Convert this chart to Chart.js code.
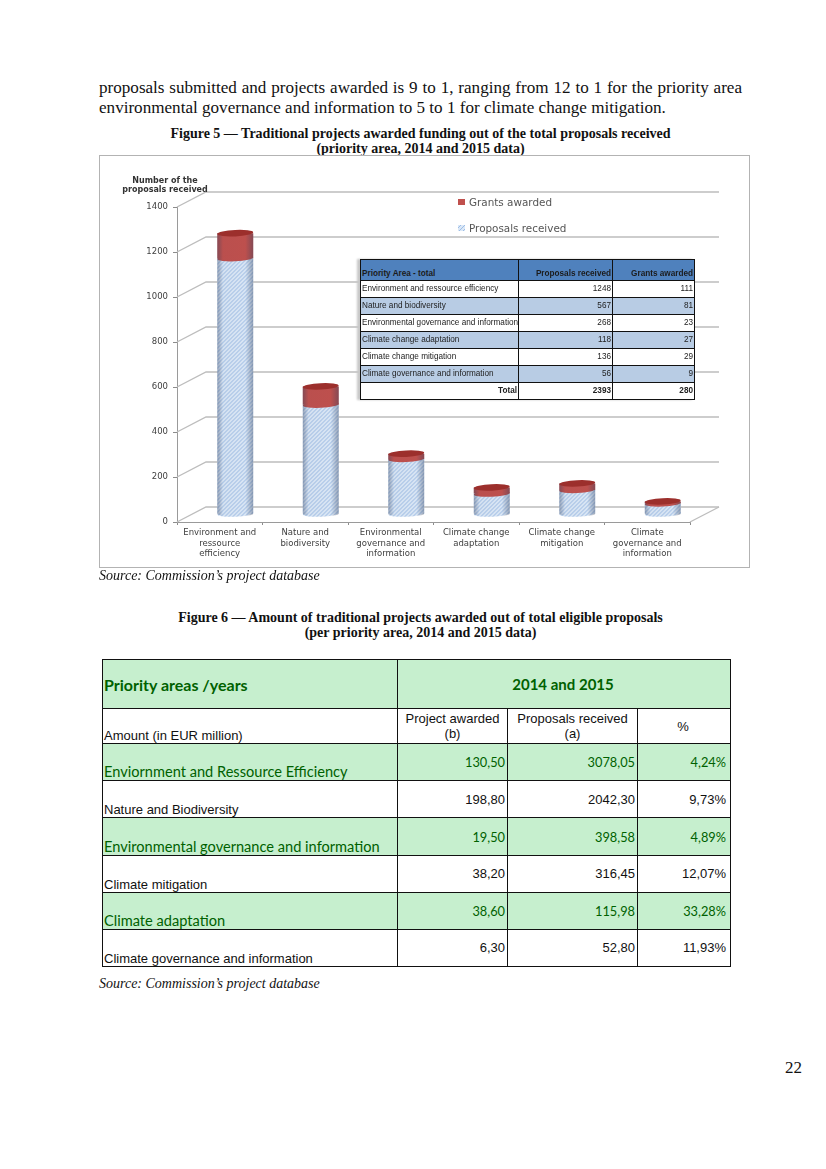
<!DOCTYPE html>
<html>
<head>
<meta charset="utf-8">
<script src="https://cdn.jsdelivr.net/npm/chart.js@4"></script>
<style>
html,body{margin:0;padding:0;background:#fff;}
body{position:relative;width:826px;height:1169px;overflow:hidden;color:#111;font-family:"Liberation Serif",serif;}
.txt{position:absolute;white-space:nowrap;}
.body{font-size:17.1px;left:99px;}
.cap{font-size:14px;font-weight:bold;left:0;width:841px;text-align:center;}
.src{font-size:14px;font-style:italic;left:99px;}
#chartBox{position:absolute;left:99px;top:155px;width:651px;height:413px;box-sizing:border-box;border:1px solid #b3b3b3;}
#chart1{position:absolute;left:-1px;top:-1px;filter:blur(.3px);}
#inner{position:absolute;left:360px;top:259px;width:334px;height:140px;background:#fff;box-shadow:-3px 0 2px #c8c8c8;border-collapse:collapse;table-layout:fixed;font-family:"Liberation Sans",sans-serif;font-size:8.2px;color:#222;filter:blur(.25px);}
#inner td{border:1px solid #111;padding:0 1px;height:16px;line-height:10px;white-space:nowrap;overflow:hidden;vertical-align:middle;text-align:right;}
#inner td:first-child{text-align:left;}
#inner tr.head td{background:#4f81bd;font-weight:bold;height:19px;color:#1c1c1c;vertical-align:bottom;padding-bottom:1px;}
#inner tr.alt td{background:#b8cce4;}
#inner tr.tot td{font-weight:bold;}
#amounts{position:absolute;left:102px;top:659px;width:628px;height:308px;border-collapse:collapse;table-layout:fixed;font-family:"Liberation Sans",sans-serif;font-size:13px;color:#111;}
#amounts td{border:1px solid #111;padding:0 2px;text-align:right;vertical-align:middle;}
#amounts td:first-child{text-align:left;vertical-align:bottom;padding-left:1px;}
#amounts td:last-child{padding-right:4px;}
#amounts tr.green td{background:#c6efce;color:#006100;font-family:Lato,sans-serif;font-size:12.8px;}
#amounts tr.green td:first-child{font-size:14.6px;}
#amounts tr.top td{background:#c6efce;color:#006100;font-family:Lato,sans-serif;font-weight:bold;font-size:15px;vertical-align:middle;text-align:center;}
#amounts tr.top td:first-child{text-align:left;font-size:16px;}
#amounts tr.sub td{text-align:center;line-height:15px;}
#amounts tr.sub td:first-child{text-align:left;}
</style>
</head>
<body>
<div class="txt body" style="top:78px;width:643px;white-space:normal;text-align:justify;text-align-last:justify;">proposals submitted and projects awarded is 9 to 1, ranging from 12 to 1 for the priority area</div>
<div class="txt body" style="top:98px;">environmental governance and information to 5 to 1 for climate change mitigation.</div>
<div class="txt cap" style="top:126px;">Figure 5 — Traditional projects awarded funding out of the total proposals received</div>
<div class="txt cap" style="top:141px;">(priority area, 2014 and 2015 data)</div>

<div id="chartBox"><canvas id="chart1" width="651" height="413"></canvas></div>
<table id="inner"><colgroup><col style="width:158px"><col style="width:94px"><col style="width:82px"></colgroup><tbody id="innerBody"></tbody></table>

<div class="txt src" style="top:568px;">Source: Commission’s project database</div>
<div class="txt cap" style="top:610px;">Figure 6 — Amount of traditional projects awarded out of total eligible proposals</div>
<div class="txt cap" style="top:625px;">(per priority area, 2014 and 2015 data)</div>

<table id="amounts"><colgroup><col style="width:295px"><col style="width:110px"><col style="width:130px"><col style="width:93px"></colgroup><tbody id="amountsBody"></tbody></table>

<div class="txt src" style="top:976px;">Source: Commission’s project database</div>
<div class="txt" style="left:785px;top:1058px;font-size:17px;">22</div>

<script>
// figure 5 data
var categories = [
	['Environment and', 'ressource', 'efficiency'],
	['Nature and', 'biodiversity'],
	['Environmental', 'governance and', 'information'],
	['Climate change', 'adaptation'],
	['Climate change', 'mitigation'],
	['Climate', 'governance and', 'information']
];
// the blue part of the column is what is left under the red part
var proposalsBar = [1137, 486, 245, 91, 107, 47];
var grantsBar    = [111, 81, 23, 27, 29, 9];
var yTicks       = [0, 200, 400, 600, 800, 1000, 1200, 1400];

// table inside figure 5
var innerAreas     = ['Environment and ressource efficiency', 'Nature and biodiversity', 'Environmental governance and information', 'Climate change adaptation', 'Climate change mitigation', 'Climate governance and information'];
var innerProposals = [1248, 567, 268, 118, 136, 56];
var innerGrants    = [111, 81, 23, 27, 29, 9];

// figure 6 table
var amountAreas     = ['Enviornment and Ressource Efficiency', 'Nature and Biodiversity', 'Environmental governance and information', 'Climate mitigation', 'Climate adaptation', 'Climate governance and information'];
var amountAwarded   = ['130,50', '198,80', '19,50', '38,20', '38,60', '6,30'];
var amountProposals = ['3078,05', '2042,30', '398,58', '316,45', '115,98', '52,80'];
var amountPercent   = ['4,24%', '9,73%', '4,89%', '12,07%', '33,28%', '11,93%'];

var innerHtml = '<tr class="head"><td>Priority Area - total</td><td>Proposals received</td><td>Grants awarded</td></tr>';
for (var i = 0; i < innerAreas.length; i++) {
	innerHtml += '<tr class="' + (i % 2 ? 'alt' : '') + '"><td>' + innerAreas[i] + '</td><td>' + innerProposals[i] + '</td><td>' + innerGrants[i] + '</td></tr>';
}
innerHtml += '<tr class="tot"><td style="text-align:right">Total</td><td>2393</td><td>280</td></tr>';
document.getElementById('innerBody').innerHTML = innerHtml;

var amountHtml = '<tr class="top" style="height:49px"><td>Priority areas /years</td><td colspan="3">2014 and 2015</td></tr>';
amountHtml += '<tr class="sub" style="height:35px"><td>Amount (in EUR million)</td><td>Project awarded<br>(b)</td><td>Proposals received<br>(a)</td><td>%</td></tr>';
for (var j = 0; j < amountAreas.length; j++) {
	amountHtml += '<tr class="' + (j % 2 ? '' : 'green') + '" style="height:37px"><td>' + amountAreas[j] + '</td><td>' + amountAwarded[j] + '</td><td>' + amountProposals[j] + '</td><td>' + amountPercent[j] + '</td></tr>';
}
document.getElementById('amountsBody').innerHTML = amountHtml;

// hatch used for the blue columns
var hatch = document.createElement('canvas');
hatch.width = 4;
hatch.height = 4;
var hctx = hatch.getContext('2d');
hctx.fillStyle = '#dbe8f7';
hctx.fillRect(0, 0, 4, 4);
hctx.fillStyle = '#9dbde6';
for (var h = 0; h < 4; h++) {
	hctx.fillRect(h, 3 - h, 1, 1);
}

var depthX = 29;
var depthY = 15;
var barShiftX = 15.5;
var barShiftY = 8;
var ellipseH = 3.2;
var tilt = -0.05;

var walls = {
	id: 'walls',
	beforeDatasetsDraw: function(chart) {
		var ctx = chart.ctx;
		var yScale = chart.scales.y;
		var area = chart.chartArea;
		ctx.save();
		ctx.strokeStyle = '#bdbdbd';
		ctx.lineWidth = 1.4;
		yTicks.forEach(function(t) {
			var py = yScale.getPixelForValue(t);
			ctx.beginPath();
			ctx.moveTo(area.left, py);
			ctx.lineTo(area.left + depthX, py - depthY);
			ctx.lineTo(area.right + depthX, py - depthY);
			ctx.stroke();
		});
		ctx.beginPath();
		ctx.moveTo(area.right, yScale.getPixelForValue(0));
		ctx.lineTo(area.right + depthX, yScale.getPixelForValue(0) - depthY);
		ctx.stroke();
		ctx.restore();
		// columns stand in the middle of the floor depth
		ctx.save();
		ctx.translate(barShiftX, -barShiftY);
	},
	afterDatasetsDraw: function(chart) {
		var ctx = chart.ctx;
		var blue = chart.getDatasetMeta(0).data;
		var red = chart.getDatasetMeta(1).data;
		var pattern = ctx.createPattern(hatch, 'repeat');
		for (var i = 0; i < blue.length; i++) {
			var x = blue[i].x;
			var r = blue[i].width / 2;
			var base = blue[i].base;
			var mid = red[i].base;
			var top = red[i].y;
			ctx.fillStyle = pattern;
			ctx.beginPath();
			ctx.ellipse(x, base, r, ellipseH, tilt, 0, Math.PI * 2);
			ctx.fill();
			ctx.fillStyle = '#c0504d';
			ctx.beginPath();
			ctx.ellipse(x, mid, r, ellipseH, tilt, 0, Math.PI * 2);
			ctx.fill();
			// round shading, dark on both edges
			var shade = ctx.createLinearGradient(x - r, 0, x + r, 0);
			shade.addColorStop(0, 'rgba(50,65,95,.42)');
			shade.addColorStop(0.16, 'rgba(50,65,95,.04)');
			shade.addColorStop(0.78, 'rgba(50,65,95,.02)');
			shade.addColorStop(1, 'rgba(50,65,95,.42)');
			ctx.fillStyle = shade;
			ctx.beginPath();
			ctx.moveTo(x - r, top);
			ctx.lineTo(x - r, base);
			ctx.ellipse(x, base, r, ellipseH, 0, Math.PI, 0, true);
			ctx.lineTo(x + r, top);
			ctx.closePath();
			ctx.fill();
			ctx.fillStyle = '#9c2f2c';
			ctx.beginPath();
			ctx.ellipse(x, top, r, ellipseH, tilt, 0, Math.PI * 2);
			ctx.fill();
		}
		ctx.restore();
	},
	afterDraw: function(chart) {
		var ctx = chart.ctx;
		ctx.save();
		ctx.fillStyle = '#333';
		ctx.font = 'bold 8px "DejaVu Sans"';
		ctx.textAlign = 'center';
		ctx.textBaseline = 'middle';
		ctx.fillText('Number of the', 66, 25.5);
		ctx.fillText('proposals received', 66, 34.5);
		// legend, grants first
		ctx.font = '10.4px "DejaVu Sans"';
		ctx.textAlign = 'left';
		ctx.fillStyle = '#c0504d';
		ctx.fillRect(359, 44, 7, 6);
		ctx.fillStyle = ctx.createPattern(hatch, 'repeat');
		ctx.fillRect(359, 70, 7, 6);
		ctx.fillStyle = '#555';
		ctx.fillText(chart.data.datasets[1].label, 370, 48);
		ctx.fillText(chart.data.datasets[0].label, 370, 74);
		ctx.restore();
	}
};

var ctx1 = document.getElementById('chart1').getContext('2d');
var bluePattern = ctx1.createPattern(hatch, 'repeat');
new Chart(ctx1, {
	type: 'bar',
	data: {
		labels: categories,
		datasets: [
			{label: 'Proposals received', data: proposalsBar, backgroundColor: bluePattern, barPercentage: 1, categoryPercentage: 0.42},
			{label: 'Grants awarded', data: grantsBar, backgroundColor: '#c0504d', barPercentage: 1, categoryPercentage: 0.42}
		]
	},
	plugins: [walls],
	options: {
		responsive: false,
		animation: false,
		events: [],
		layout: {padding: {left: 28, right: 60, top: 52, bottom: 2}},
		plugins: {legend: {display: false}, tooltip: {enabled: false}},
		scales: {
			x: {
				stacked: true,
				afterFit: function(scale) { scale.height = 44; },
				grid: {drawOnChartArea: false, color: '#8c8c8c', tickLength: 3},
				border: {color: '#9a9a9a'},
				ticks: {maxRotation: 0, autoSkip: false, color: '#404040', padding: 3, font: {family: 'DejaVu Sans', size: 8.5}}
			},
			y: {
				stacked: true,
				min: 0,
				max: 1400,
				afterFit: function(scale) { scale.width = 50; },
				grid: {drawOnChartArea: false, color: '#8c8c8c', tickLength: 4},
				border: {color: '#9a9a9a'},
				ticks: {
					stepSize: 200,
					color: '#404040',
					padding: 5,
					font: {family: 'DejaVu Sans', size: 8.5},
					callback: function(value) { return String(value); }
				}
			}
		}
	}
});
</script>
</body>
</html>
